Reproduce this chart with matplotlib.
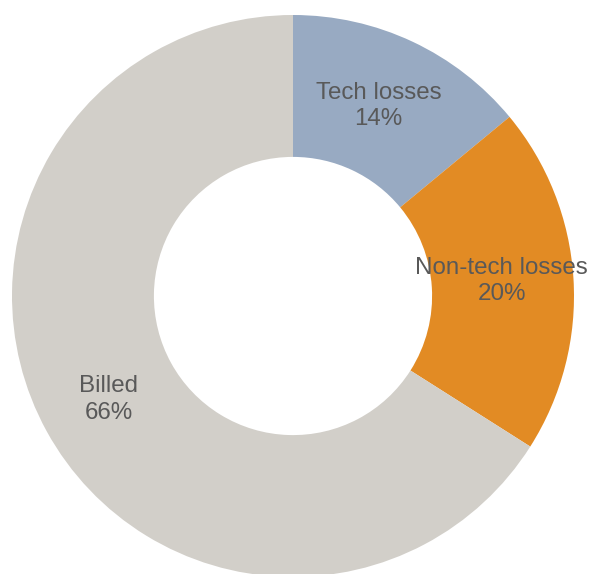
import matplotlib
matplotlib.use("Agg")
import matplotlib.pyplot as plt

# Share of supplied energy
categories = ["Tech losses", "Non-tech losses", "Billed"]
shares = [14, 20, 66]
colors = ["#98AAC2", "#E28B24", "#D2CFC9"]

# Label anchor points in units of the outer radius
label_xy = [(0.304, 0.676), (0.742, 0.053), (-0.657, -0.367)]

W, H, DPI = 591, 574, 100
cx, cy, R = 293, 296, 281  # centre and outer radius in pixels

fig = plt.figure(figsize=(W / DPI, H / DPI), dpi=DPI)
ax = fig.add_axes([0, 0, 1, 1])

ax.pie(shares, colors=colors, startangle=90, counterclock=False,
       radius=1.0, wedgeprops=dict(width=0.505, linewidth=0))

ax.set_xlim(-cx / R, (W - cx) / R)
ax.set_ylim(-(H - cy) / R, cy / R)
ax.set_aspect("auto")
ax.axis("off")

for name, val, (x, y) in zip(categories, shares, label_xy):
    ax.text(x, y, f"{name}\n{val}%", ha="center", va="center",
            fontsize=17.4, color="#595959", family="Liberation Sans",
            linespacing=1.28)

fig.savefig("out.png", dpi=DPI)
